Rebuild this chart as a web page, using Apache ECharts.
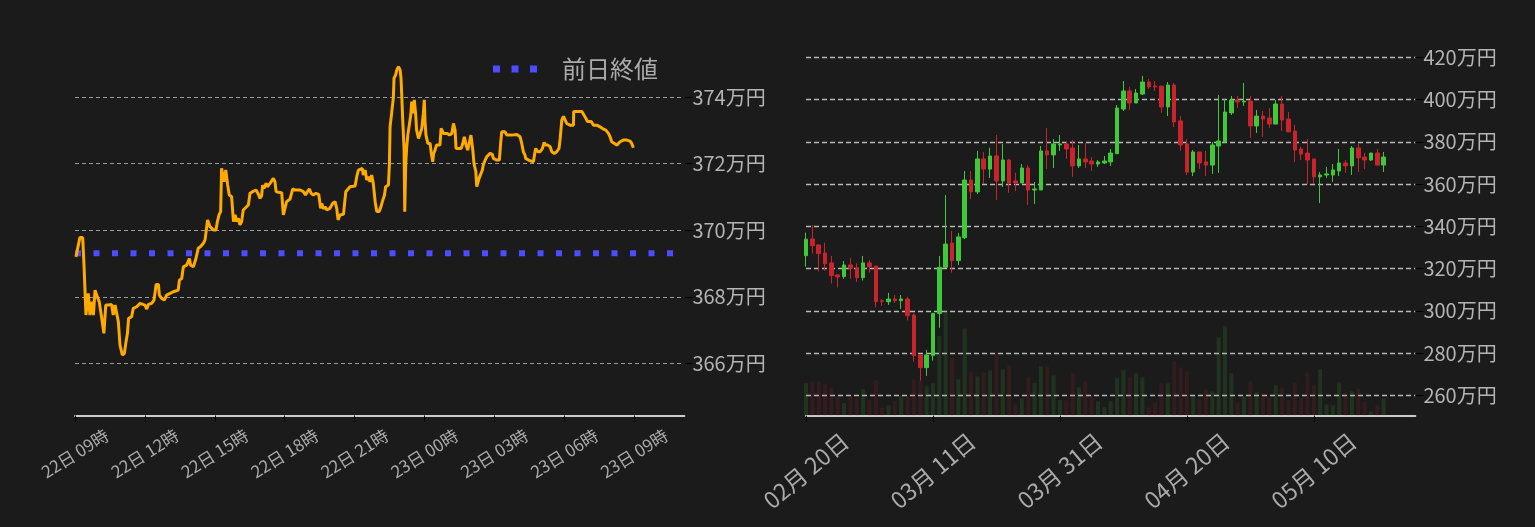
<!DOCTYPE html>
<html><head><meta charset="utf-8">
<script src="https://cdn.jsdelivr.net/npm/echarts@6/dist/echarts.min.js"></script>
<style>html,body{margin:0;padding:0;background:#1b1b1b;}#c{width:1535px;height:527px;}</style>
</head><body><div id="c"></div>
<script>
// ---- intraday (left) ----
const intradayHours = [9.04,9.21,9.33,9.39,9.47,9.57,9.64,9.71,9.79,9.86,9.93,10.04,10.10,10.17,10.24,10.32,10.43,10.57,10.64,10.72,10.79,10.86,10.93,11.03,11.12,11.19,11.25,11.30,11.43,11.50,11.65,11.79,11.86,12.00,12.08,12.15,12.29,12.39,12.45,12.48,12.58,12.62,12.72,12.83,12.93,13.08,13.22,13.29,13.43,13.48,13.58,13.65,13.79,13.86,13.91,13.96,14.08,14.15,14.19,14.29,14.39,14.51,14.58,14.65,14.69,14.79,14.94,15.05,15.11,15.18,15.25,15.29,15.39,15.47,15.55,15.62,15.72,15.80,15.87,15.94,16.01,16.08,16.15,16.22,16.30,16.44,16.51,16.62,16.77,16.87,16.94,17.01,17.05,17.11,17.20,17.25,17.37,17.44,17.51,17.58,17.63,17.73,17.87,17.94,18.01,18.08,18.23,18.34,18.44,18.66,18.80,18.89,18.97,19.06,19.13,19.23,19.34,19.46,19.54,19.59,19.66,19.73,19.80,19.94,20.06,20.16,20.23,20.29,20.37,20.52,20.62,20.69,20.80,21.02,21.09,21.16,21.23,21.33,21.37,21.45,21.52,21.59,21.66,21.73,21.80,21.88,21.95,22.05,22.13,22.19,22.28,22.33,22.45,22.49,22.52,22.59,22.66,22.69,22.76,22.81,22.88,22.95,22.99,23.02,23.06,23.12,23.15,23.19,23.23,23.28,23.35,23.41,23.45,23.52,23.56,23.62,23.66,23.74,23.81,23.88,23.95,23.99,24.02,24.06,24.14,24.24,24.28,24.35,24.39,24.45,24.51,24.59,24.66,24.71,24.77,24.81,24.88,24.98,25.07,25.17,25.24,25.31,25.35,25.45,25.57,25.62,25.71,25.78,25.85,25.92,25.99,26.07,26.12,26.20,26.24,26.34,26.42,26.48,26.52,26.60,26.67,26.81,26.91,26.95,27.10,27.21,27.27,27.31,27.45,27.53,27.63,27.74,27.81,27.96,28.10,28.17,28.24,28.31,28.34,28.46,28.57,28.67,28.74,28.77,28.86,28.96,29.06,29.13,29.20,29.29,29.39,29.46,29.57,29.67,29.77,29.82,29.89,29.96,30.03,30.10,30.24,30.39,30.40,30.53,30.75,30.82,30.92,30.99,31.06,31.15,31.25,31.39,31.53,31.68,31.78,31.89,31.96,32.03,32.15,32.25,32.32,32.39,32.53,32.68,32.82,32.89,32.96];
const intradayPrices = [369.20,369.78,369.78,368.90,367.45,368.10,367.45,367.85,367.45,368.20,368.05,367.85,367.80,367.25,366.90,367.75,367.75,367.77,367.45,367.75,367.50,367.25,366.55,366.25,366.30,366.65,366.90,367.35,367.40,367.65,367.70,367.80,367.85,367.75,367.63,367.77,367.80,367.90,368.20,368.37,368.37,368.05,367.95,367.90,368.05,368.10,368.15,368.19,368.20,368.50,368.55,368.90,368.95,369.00,369.15,368.95,368.90,368.90,369.15,369.46,369.51,369.61,369.71,369.76,370.31,370.11,370.01,370.01,370.26,370.46,370.56,371.86,371.46,371.81,371.36,371.06,371.01,370.26,370.46,370.26,370.36,370.16,370.26,370.61,370.66,370.76,371.11,371.16,371.21,371.08,370.96,371.04,371.36,371.26,371.41,371.31,371.41,371.36,371.56,371.46,371.16,371.14,371.13,370.46,370.66,370.86,370.94,371.24,371.21,371.21,371.16,371.06,371.16,371.24,371.11,371.06,371.11,371.08,370.66,370.81,370.64,370.71,370.61,370.66,370.81,370.86,370.66,370.31,370.46,370.48,371.16,371.21,371.31,371.33,371.61,371.81,371.81,371.86,371.66,371.81,371.51,371.61,371.46,371.66,371.41,370.86,370.56,370.56,370.71,370.86,371.06,371.31,371.36,371.96,373.11,373.11,373.97,374.57,374.67,374.82,374.92,374.82,374.57,374.07,373.37,372.46,370.56,371.96,372.46,372.86,372.86,373.47,373.87,373.52,373.92,373.47,373.01,372.76,372.91,373.06,373.52,373.92,373.27,372.86,372.61,372.61,372.36,372.06,372.31,372.41,372.56,372.61,372.56,373.06,373.11,372.91,372.86,372.91,372.86,372.91,373.21,373.01,372.46,372.46,372.46,372.56,372.81,372.56,372.41,372.46,372.86,372.41,372.01,371.76,371.31,371.56,371.56,371.81,371.96,372.11,372.21,372.31,372.28,372.16,372.11,372.11,372.66,372.96,372.96,372.86,372.86,372.86,372.91,372.88,372.81,372.61,372.36,372.26,372.16,372.11,372.08,372.06,372.36,372.46,372.36,372.36,372.46,372.64,372.56,372.56,372.51,372.36,372.31,372.36,372.46,372.76,373.32,373.42,373.42,373.21,373.16,373.16,373.57,373.57,373.57,373.52,373.37,373.27,373.21,373.27,373.16,373.16,373.11,373.04,373.01,372.91,372.81,372.66,372.61,372.56,372.56,372.66,372.71,372.71,372.68,372.61,372.48];
const prevClose = 369.31;
const intradayTickHours = [9,12,15,18,21,24,27,30,33];
const intradayTickLabels = ['22日 09時','22日 12時','22日 15時','22日 18時','22日 21時','23日 00時','23日 03時','23日 06時','23日 09時'];

// ---- daily (right) ----
const dailyDates = ['02/20','02/21','02/22','02/23','02/24','02/25','02/26','02/27','02/28','02/29',
'03/01','03/02','03/03','03/04','03/05','03/06','03/07','03/08','03/09','03/10','03/11','03/12','03/13','03/14','03/15','03/16','03/17','03/18','03/19','03/20','03/21','03/22','03/23','03/24','03/25','03/26','03/27','03/28','03/29','03/30','03/31',
'04/01','04/02','04/03','04/04','04/05','04/06','04/07','04/08','04/09','04/10','04/11','04/12','04/13','04/14','04/15','04/16','04/17','04/18','04/19','04/20','04/21','04/22','04/23','04/24','04/25','04/26','04/27','04/28','04/29','04/30',
'05/01','05/02','05/03','05/04','05/05','05/06','05/07','05/08','05/09','05/10','05/11','05/12','05/13','05/14','05/15','05/16','05/17','05/18','05/19','05/20','05/21','05/22','05/23','05/24','05/25','05/26'];
const dailyOpen  = [326.1,334.0,331.2,327.4,322.7,317.0,316.2,321.7,320.1,315.7,322.7,321.2,304.8,304.3,305.6,304.8,305.6,298.0,279.1,273.1,278.8,298.7,320.6,332.1,323.8,334.6,361.9,356.3,371.9,367.1,373.3,361.5,371.4,361.5,360.5,367.6,357.2,357.2,375.7,373.8,378.5,379.0,377.1,368.6,371.9,370.9,369.5,370.0,370.5,374.4,395.5,404.1,398.4,402.6,408.3,406.4,406.4,396.5,406.9,389.9,379.0,365.7,375.2,370.5,369.0,378.0,379.9,393.7,399.8,398.9,399.3,387.5,392.2,391.3,388.4,397.9,390.8,385.1,376.6,374.7,371.9,363.4,364.3,364.3,366.2,370.0,368.6,377.1,372.8,371.4,374.7,369.0];
const dailyClose = [333.9,330.9,327.1,322.3,316.7,316.0,321.7,320.1,315.7,322.7,320.9,304.3,304.5,305.6,304.8,305.6,297.7,278.8,273.1,279.1,298.8,320.6,331.6,323.8,335.0,361.9,356.4,371.9,367.1,373.3,361.5,371.4,360.5,360.5,367.6,357.2,357.7,375.7,373.8,379.0,379.0,376.6,368.6,371.9,370.5,369.5,370.5,370.9,374.7,396.0,404.1,398.4,403.1,408.3,406.0,406.0,396.5,406.9,389.4,378.5,365.7,375.2,370.0,369.0,378.5,380.4,394.1,399.8,398.9,399.3,387.5,392.2,390.8,388.4,397.9,390.3,384.7,376.1,374.2,371.4,363.4,364.3,364.8,366.7,370.0,368.6,377.1,372.4,371.4,374.7,369.0,372.8];
const dailyLow   = [320.9,327.1,318.6,319.0,312.9,311.0,315.2,315.2,313.7,314.3,318.1,301.5,302.3,302.8,303.7,300.9,295.4,275.9,267.0,269.2,276.4,292.0,320.3,318.1,321.7,334.0,352.9,355.3,360.0,362.9,352.5,358.6,355.8,356.7,360.5,350.1,350.6,357.2,367.1,367.6,375.7,371.9,363.4,367.6,367.6,366.2,368.1,369.5,368.6,374.4,394.6,395.1,398.4,402.2,405.0,404.1,393.7,392.2,387.0,375.7,364.3,363.8,367.1,363.8,364.8,365.3,379.9,392.7,396.0,397.0,381.8,384.2,382.3,386.6,388.4,385.1,384.7,370.5,371.4,360.0,360.0,351.0,362.9,361.0,363.8,365.3,364.3,365.7,367.1,370.9,369.0,365.7];
const dailyHigh  = [337.0,340.5,331.4,332.3,326.0,317.4,323.6,324.9,322.5,326.0,324.1,321.2,305.6,308.5,307.5,307.5,306.6,298.8,279.1,281.5,298.8,326.0,354.8,337.8,336.9,366.2,366.2,375.7,375.2,377.2,383.2,379.0,371.9,365.3,369.5,369.0,361.0,378.0,386.6,381.3,383.2,379.9,380.9,378.5,379.5,372.8,371.4,373.3,376.6,397.4,408.8,406.0,405.0,411.2,409.7,408.8,406.4,408.3,407.9,392.2,381.3,376.1,375.2,375.7,379.9,402.2,400.3,401.7,401.7,407.9,401.7,395.1,394.6,396.0,399.8,401.7,394.1,388.0,377.6,381.3,371.9,365.7,368.1,369.5,376.6,371.4,378.0,379.5,374.7,374.7,376.6,375.2];
const dailyVolume = [653,687,687,633,567,393,253,393,347,527,313,707,167,207,287,393,393,727,707,587,653,1593,2107,1167,727,1747,867,787,867,907,1227,927,1007,227,347,767,653,987,987,807,313,307,853,567,687,407,287,173,293,747,907,767,847,767,167,267,647,647,1087,967,887,407,327,527,487,1567,1787,847,267,387,687,467,447,367,607,567,307,667,367,867,607,927,227,207,667,467,487,547,287,87,207,347];

const FONT = '"Noto Sans CJK JP", "Noto Sans", sans-serif';
const UP = '#3fc83a', DOWN = '#c9242e';
const UP_VOL = 'rgba(63,200,58,0.14)', DOWN_VOL = 'rgba(201,36,46,0.14)';
const PREV = '#4d4dff';

const pricePairs = intradayHours.map((h, i) => [h, intradayPrices[i]]);
const prevPairs = [[9, prevClose], [35.15, prevClose]];
const candles = dailyOpen.map((o, i) => [o, dailyClose[i], dailyLow[i], dailyHigh[i]]);
const vols = dailyVolume.map((v, i) => ({value: v, itemStyle: {color: dailyClose[i] >= dailyOpen[i] ? UP_VOL : DOWN_VOL}}));

const chart = echarts.init(document.getElementById('c'), null, {renderer: 'canvas'});
chart.setOption({
  backgroundColor: '#1b1b1b',
  animation: false,
  textStyle: {fontFamily: FONT},
  legend: {
    data: [{name: '前日終値', icon: 'path://M0,0h7v7h-7z M18.5,0h7v7h-7z M37,0h7v7h-7z'}],
    left: 488, top: 52, itemWidth: 44, itemHeight: 7,
    itemStyle: {color: PREV},
    textStyle: {color: '#aaaaaa', fontSize: 24, fontFamily: FONT, padding: [0, 0, 0, 20]}
  },
  grid: [
    {left: 75, right: 850.6, top: 40, bottom: 111.5},
    {left: 806, right: 119.6, top: 40, bottom: 111.3}
  ],
  xAxis: [
    {type: 'value', gridIndex: 0, min: 9, max: 35.15, interval: 3,
     axisLine: {lineStyle: {color: '#cccccc', width: 2}},
     axisTick: {lineStyle: {color: '#000'}, length: 6},
     splitLine: {show: false},
     axisLabel: {rotate: 32, align: 'center', verticalAlign: 'middle', margin: 38, color: '#aaaaaa', fontSize: 17, fontFamily: FONT,
       showMaxLabel: false,
       formatter: v => { const k = intradayTickHours.indexOf(Math.round(v * 100) / 100); return k >= 0 ? intradayTickLabels[k] : ''; }}},
    {type: 'category', gridIndex: 1, data: dailyDates, boundaryGap: false,
     axisLine: {lineStyle: {color: '#cccccc', width: 2}},
     axisTick: {interval: 19, lineStyle: {color: '#000'}, length: 6},
     splitLine: {show: false},
     axisLabel: {interval: 19, rotate: 40, align: 'center', verticalAlign: 'middle', margin: 55, color: '#aaaaaa', fontSize: 23, fontFamily: FONT,
       formatter: v => v.slice(0, 2) + '月 ' + v.slice(3) + '日'}}
  ],
  yAxis: [
    {type: 'value', gridIndex: 0, position: 'right', min: 364.43, max: 375.72, splitNumber: 5,
     axisLine: {show: false}, axisTick: {show: true, length: 8, lineStyle: {color: '#000'}},
     axisLabel: {color: '#b4b4b4', fontSize: 20, margin: 8, fontFamily: FONT, showMinLabel: false, showMaxLabel: false, formatter: v => v + '万円'},
     splitLine: {show: true, showMinLine: false, showMaxLine: false, lineStyle: {color: '#9a9a9a', type: [4, 3], width: 1}}},
    {type: 'value', gridIndex: 1, position: 'right', min: 250.36, max: 428.2, splitNumber: 8,
     axisLine: {show: false}, axisTick: {show: true, length: 8, lineStyle: {color: '#000'}},
     axisLabel: {color: '#b4b4b4', fontSize: 20, margin: 8, fontFamily: FONT, showMinLabel: false, showMaxLabel: false, formatter: v => v + '万円'},
     splitLine: {show: true, showMinLine: false, showMaxLine: false, lineStyle: {color: '#b8b8b8', type: [5, 3], width: 1.3}}},
    {type: 'value', gridIndex: 1, min: 0, max: 7514, show: false, splitLine: {show: false}}
  ],
  series: [
    {name: '価格', type: 'line', xAxisIndex: 0, yAxisIndex: 0, data: pricePairs, showSymbol: false, symbol: 'none',
     lineStyle: {color: '#ffaa00', width: 3}, z: 3},
    {name: '前日終値', type: 'line', xAxisIndex: 0, yAxisIndex: 0, data: prevPairs, symbol: 'none',
     lineStyle: {color: PREV, width: 6, type: [6, 12.5]}, itemStyle: {color: PREV}, z: 2},
    {name: '出来高', type: 'bar', xAxisIndex: 1, yAxisIndex: 2, data: vols, barWidth: 4, z: 1},
    {name: '日足', type: 'candlestick', xAxisIndex: 1, yAxisIndex: 1, data: candles, barWidth: 4,
     itemStyle: {color: UP, color0: DOWN, borderColor: UP, borderColor0: DOWN, borderWidth: 1}, z: 3}
  ]
});
</script></body></html>
